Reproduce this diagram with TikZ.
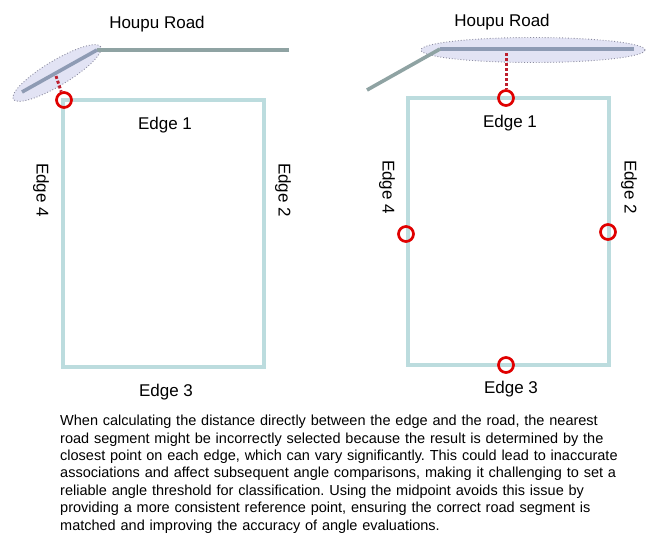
\documentclass[tikz,border=0pt]{standalone}
\usepackage{fontspec}
\setmainfont{Liberation Sans}
\usetikzlibrary{shapes.geometric}
\definecolor{edgec}{RGB}{188,220,222}
\definecolor{roadc}{RGB}{143,163,163}
\definecolor{roadin}{RGB}{142,155,180}
\definecolor{ellfill}{RGB}{226,227,244}
\definecolor{ellline}{RGB}{140,140,160}
\definecolor{redc}{RGB}{224,0,0}
\definecolor{dotred}{RGB}{190,30,45}
\frenchspacing
\begin{document}
\begin{tikzpicture}[x=1pt,y=-1pt,
  edgebox/.style={draw=edgec, line width=4pt},
  road/.style={draw=roadc, line width=3.6pt},
  roadsel/.style={draw=roadin, line width=3.6pt},
  selell/.style={ellipse, fill=ellfill, draw=ellline, dotted, line width=0.9pt, inner sep=0},
  midpt/.style={circle, draw=redc, line width=2.7pt, minimum size=15pt, inner sep=0},
  link/.style={draw=dotred, line width=3pt, dash pattern=on 3pt off 2pt},
  lbl/.style={font=\fontsize{17}{20}\selectfont, inner sep=0},
  para/.style={font=\fontsize{14.5}{17.4}\selectfont, inner sep=0, anchor=north west, text width=559pt}
]
\useasboundingbox[fill=white] (0,0) rectangle (668,551);

% ---------- left panel ----------
\draw[edgebox] (63,100) rectangle (264,367);
\node[selell, minimum width=102pt, minimum height=25pt, rotate=31] (ellL) at (57,73) {};
\coordinate (LA) at (289,50);
\coordinate (LB) at (97,50);
\coordinate (LC) at (22,92);
\draw[road] (LA) -- (LB);
\draw[roadsel] (LB) -- (LC);
\coordinate (LF) at (56,76);
\node[midpt] (L1) at (64,100) {};
\draw[link] (LF) -- (L1);
\node[lbl] (LHR) at (157,24) {Houpu Road};
\node[lbl] (LE1) at (165,125) {Edge 1};
\node[lbl, rotate=-90] (LE2) at (283,190) {Edge 2};
\node[lbl] (LE3) at (166,392) {Edge 3};
\node[lbl, rotate=-90] (LE4) at (41,190) {Edge 4};

% ---------- right panel ----------
\draw[edgebox] (408,98) rectangle (609,365);
\node[selell, minimum width=224pt, minimum height=25pt] (ellR) at (533,50) {};
\coordinate (RA) at (634,49);
\coordinate (RB) at (440,49);
\coordinate (RC) at (367,90);
\draw[roadsel] (RA) -- (RB);
\draw[road] (RB) -- (RC);
\coordinate (RF) at (506,53);
\node[midpt] (R1) at (506,98) {};
\node[midpt] (R2) at (608,232) {};
\node[midpt] (R3) at (506,365) {};
\node[midpt] (R4) at (406,234) {};
\draw[link] (RF) -- (R1);
\node[lbl] (RHR) at (502,22) {Houpu Road};
\node[lbl] (RE1) at (510,123) {Edge 1};
\node[lbl, rotate=-90] (RE2) at (629,187) {Edge 2};
\node[lbl] (RE3) at (511,389) {Edge 3};
\node[lbl, rotate=-90] (RE4) at (387,187) {Edge 4};

% ---------- caption ----------
\node[para] (cap) at (60,415) {%
\makebox[\linewidth][s]{When calculating the distance directly between the edge and the road, the nearest}\\
\makebox[\linewidth][s]{road segment might be incorrectly selected because the result is determined by the}\\
\makebox[\linewidth][s]{closest point on each edge, which can vary significantly. This could lead to inaccurate}\\
\makebox[\linewidth][s]{associations and affect subsequent angle comparisons, making it challenging to set a}\\
\makebox[\linewidth][s]{reliable angle threshold for classification. Using the midpoint avoids this issue by}\\
\makebox[\linewidth][s]{providing a more consistent reference point, ensuring the correct road segment is}\\
matched and improving the accuracy of angle evaluations.};
\end{tikzpicture}
\end{document}
